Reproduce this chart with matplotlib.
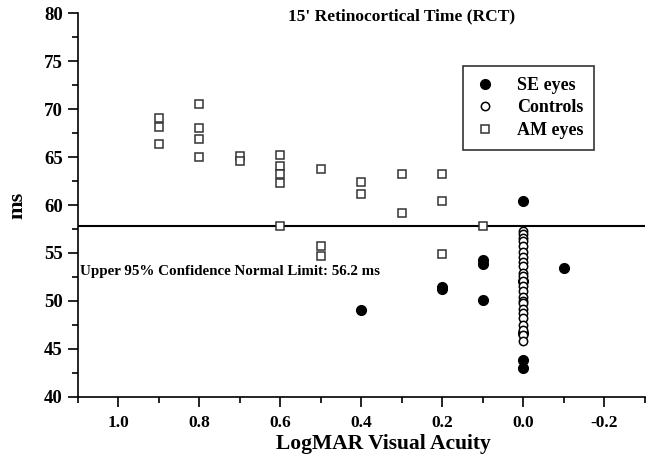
import numpy as np
import matplotlib
matplotlib.use("Agg")
import matplotlib.pyplot as plt
from matplotlib.ticker import MultipleLocator

# Data (logMAR, ms)
am_x = [0.9, 0.9, 0.9,
        0.8, 0.8, 0.8, 0.8,
        0.7, 0.7,
        0.6, 0.6, 0.6, 0.6, 0.6,
        0.5, 0.5, 0.5,
        0.4, 0.4,
        0.3, 0.3,
        0.2, 0.2, 0.2,
        0.1]
am_y = [69.1, 68.1, 66.4,
        70.5, 68.0, 66.9, 65.0,
        65.1, 64.6,
        65.2, 64.1, 63.2, 62.3, 57.8,
        63.7, 55.7, 54.7,
        62.4, 61.1,
        63.2, 59.2,
        63.2, 60.4, 54.9,
        57.8]

se_x = [0.4, 0.2, 0.2, 0.1, 0.1, 0.1, 0.0, 0.0, 0.0, 0.0, 0.0, -0.1]
se_y = [49.1, 51.5, 51.25, 54.3, 53.9, 50.1, 60.4, 52.1, 46.7, 43.9, 43.0, 53.4]

ctrl_y = [57.3, 57.0, 56.6, 56.2, 55.7, 55.1, 54.6, 54.1, 53.6, 52.9, 52.6,
          52.1, 51.6, 51.0, 50.4, 50.0, 49.8, 49.2, 48.7, 48.2, 47.5, 47.0,
          46.5, 45.8]
ctrl_x = [0.0] * len(ctrl_y)

x_ticks = [1.0, 0.8, 0.6, 0.4, 0.2, 0.0, -0.2]
x_ticklabels = ["1.0", "0.8", "0.6", "0.4", "0.2", "0.0", "-0.2"]

limit_line = 57.8
limit_text = "Upper 95% Confidence Normal Limit: 56.2 ms"

plt.rcParams["font.family"] = ["Liberation Serif", "DejaVu Serif"]
plt.rcParams["font.weight"] = "bold"

fig = plt.figure(figsize=(6.52, 4.58), dpi=100)
ax = fig.add_axes([0.1196, 0.1332, 0.8694, 0.8384])

ax.plot(se_x, se_y, "o", ms=7.0, mfc="black", mec="black", mew=1, ls="none", label="SE eyes")
ax.plot(ctrl_x, ctrl_y, "o", ms=6.0, mfc="white", mec="black", mew=1.1, ls="none", label="Controls")
ax.plot(am_x, am_y, "s", ms=5.8, mfc="white", mec="#333333", mew=1.1, ls="none", label="AM eyes")

ax.axhline(limit_line, color="black", lw=1.5, zorder=1)
ax.text(1.095, 53.1, limit_text, fontsize=10.8, fontweight="bold", va="center", ha="left")

ax.set_xlim(1.1, -0.3)
ax.set_ylim(40, 80)
ax.set_xticks(x_ticks)
ax.set_xticklabels(x_ticklabels)
ax.xaxis.set_minor_locator(MultipleLocator(0.1))
ax.yaxis.set_major_locator(MultipleLocator(5))
ax.yaxis.set_minor_locator(MultipleLocator(2.5))

ax.tick_params(which="major", direction="out", length=7, width=1.2, pad=4)
ax.tick_params(which="minor", direction="out", length=4.5, width=1.2)
ax.tick_params(axis="x", labelsize=12.5, pad=6)
ax.tick_params(axis="y", labelsize=13.5)
for lbl in ax.get_xticklabels() + ax.get_yticklabels():
    lbl.set_fontweight("bold")

for s in ["top", "right"]:
    ax.spines[s].set_visible(False)
for s in ["left", "bottom"]:
    ax.spines[s].set_linewidth(1.2)

ax.set_xlabel("LogMAR Visual Acuity", fontsize=15.5, fontweight="bold", labelpad=2, x=0.538)
ax.set_ylabel("ms", fontsize=16, fontweight="bold", labelpad=12)
ax.set_title("15' Retinocortical Time (RCT)", fontsize=12.5, fontweight="bold", x=0.571, y=0.99, va="top")

leg = ax.legend(loc="upper right", bbox_to_anchor=(0.927, 0.885), frameon=True, fancybox=False,
                edgecolor="black", fontsize=13, handletextpad=1.2, borderpad=0.6,
                labelspacing=0.3, handlelength=1.2)
leg.get_frame().set_linewidth(1.2)
for t in leg.get_texts():
    t.set_fontweight("bold")

fig.savefig("out.png", dpi=100)
